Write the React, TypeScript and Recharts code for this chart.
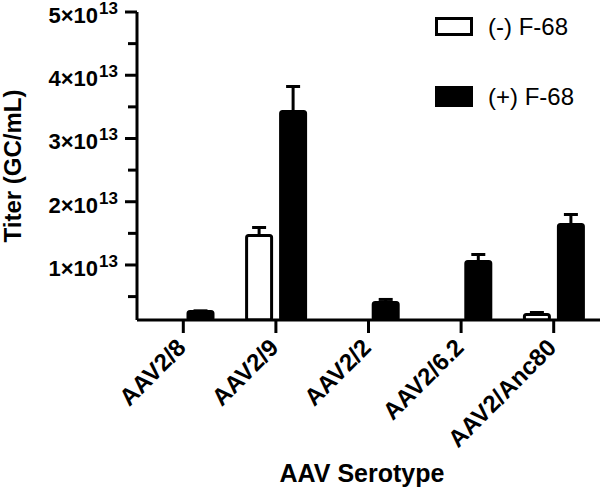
import { BarChart, Bar, XAxis, YAxis, ErrorBar, Legend } from "recharts";

/* ---------- Data ---------- */

const serotypes = ["AAV2/8", "AAV2/9", "AAV2/2", "AAV2/6.2", "AAV2/Anc80"];

// titer (GC/mL), null = not detected
const minusF68 = [null, 1.466e13, null, null, 2.17e12];
const minusF68Err = [null, 1.27e12, null, null, 3.2e11];
const plusF68 = [2.65e12, 3.426e13, 4.07e12, 1.055e13, 1.64e13];
const plusF68Err = [1e11, 3.96e12, 4.8e11, 1.11e12, 1.58e12];

const yTicks = [5e12, 1e13, 1.5e13, 2e13, 2.5e13, 3e13, 3.5e13, 4e13, 4.5e13, 5e13];

const seriesOrder = ["minus", "plus"];

const data = serotypes.map((name, i) => ({
  name,
  minus: minusF68[i],
  minusErr: minusF68Err[i] == null ? undefined : [0, minusF68Err[i]],
  plus: plusF68[i],
  plusErr: [0, plusF68Err[i]],
}));

const FONT = "'Liberation Sans', Arial, sans-serif";

/* ---------- Ticks / labels ---------- */

const YTick = ({ x, y, payload }: any) => {
  const n = payload.value / 1e13;
  const major = Number.isInteger(n);
  return (
    <g>
      <line x1={x - (major ? 12 : 9)} y1={y} x2={x} y2={y} stroke="#000" strokeWidth={3} />
      {major && (
        <text x={x - 19} y={y + 11} textAnchor="end" fontFamily={FONT} fontWeight="bold" fontSize={22} fill="#000">
          <tspan>{n}×10</tspan>
          <tspan dx={1} dy={-9} fontSize={17}>13</tspan>
        </text>
      )}
    </g>
  );
};

const XTick = ({ x, y, payload }: any) => (
  <g>
    <line x1={x} y1={y} x2={x} y2={y + 13} stroke="#000" strokeWidth={3} />
    <text
      x={x + 4}
      y={y + 29}
      transform={`rotate(-45 ${x + 4} ${y + 29})`}
      textAnchor="end"
      fontFamily={FONT}
      fontWeight="bold"
      fontSize={24}
      fill="#000"
    >
      {payload.value}
    </text>
  </g>
);

const YTitle = () => (
  <text x={21} y={166} transform="rotate(-90 21 166)" textAnchor="middle" fontFamily={FONT} fontWeight="bold" fontSize={24} fill="#000">
    Titer (GC/mL)
  </text>
);

const XTitle = () => (
  <text x={362} y={482} textAnchor="middle" fontFamily={FONT} fontWeight="bold" fontSize={25} fill="#000">
    AAV Serotype
  </text>
);

const LegendBox = ({ payload }: any) => {
  const items = [...(payload || [])].sort(
    (a: any, b: any) => seriesOrder.indexOf(a.dataKey) - seriesOrder.indexOf(b.dataKey)
  );
  return (
    <div style={{ position: "relative", fontFamily: FONT }}>
      {items.map((p: any, i: number) => {
        const hollow = p.dataKey === "minus";
        const top = i === 0 ? 17 : 86;
        const h = i === 0 ? 19 : 21;
        return (
          <div key={p.value}>
            <div
              style={{
                position: "absolute",
                left: 435,
                top,
                width: 38,
                height: h,
                boxSizing: "border-box",
                border: "3px solid #000",
                background: hollow ? "#fff" : "#000",
              }}
            />
            <div
              style={{
                position: "absolute",
                left: 488,
                top: top + h / 2 - 14,
                fontSize: 24,
                lineHeight: "28px",
                color: "#000",
                whiteSpace: "nowrap",
              }}
            >
              {p.value}
            </div>
          </div>
        );
      })}
    </div>
  );
};

/* ---------- Component ---------- */

export default function App() {
  return (
    <div style={{ position: "absolute", left: 0, top: 0, background: "#fff" }}>
      <BarChart
        width={600}
        height={489}
        data={data}
        margin={{ top: 12, right: 0, left: 0, bottom: 0 }}
        barSize={25}
        barGap={9}
      >
        <XAxis
          dataKey="name"
          height={169}
          interval={0}
          axisLine={{ stroke: "#000", strokeWidth: 3 }}
          tickLine={false}
          tickSize={0}
          tickMargin={0}
          tick={<XTick />}
          label={<XTitle />}
        />
        <YAxis
          type="number"
          width={137}
          domain={[1.3e12, 5e13]}
          allowDataOverflow
          ticks={yTicks}
          axisLine={{ stroke: "#000", strokeWidth: 3 }}
          tickLine={false}
          tickSize={0}
          tickMargin={0}
          tick={<YTick />}
          label={<YTitle />}
        />
        <Legend
          layout="vertical"
          align="center"
          verticalAlign="middle"
          wrapperStyle={{ position: "absolute", left: 0, top: 0, width: 0, height: 0 }}
          content={<LegendBox />}
        />
        <Bar dataKey="minus" name="(-) F-68" fill="#fff" stroke="#000" strokeWidth={3} radius={2} isAnimationActive={false}>
          <ErrorBar dataKey="minusErr" direction="y" width={7} stroke="#000" strokeWidth={3} />
        </Bar>
        <Bar dataKey="plus" name="(+) F-68" fill="#000" stroke="#000" strokeWidth={3} radius={2} isAnimationActive={false}>
          <ErrorBar dataKey="plusErr" direction="y" width={7} stroke="#000" strokeWidth={3} />
        </Bar>
      </BarChart>
    </div>
  );
}
